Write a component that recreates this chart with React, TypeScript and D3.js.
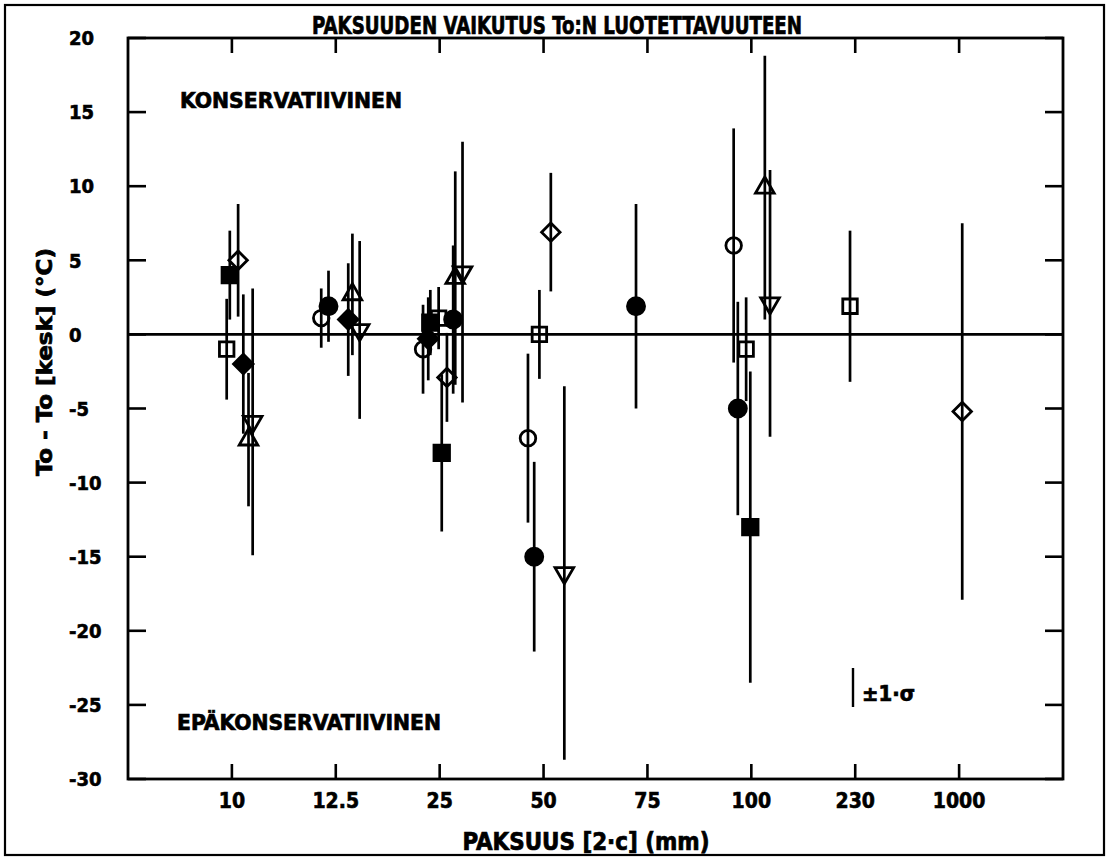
import React from 'react';
import * as d3 from 'd3';

// thickness classes (mm) shown on the x axis
const categories = ['10', '12.5', '25', '50', '75', '100', '230', '1000'];
const yTicks = [20, 15, 10, 5, 0, -5, -10, -15, -20, -25, -30];

// rows: [thickness class, offset inside class (fraction of a step), To - To[kesk], sigma]
type Row = [string, number, number, number];

const openSquare: Row[] = [
  ['10', -0.05, -1, 3.4],
  ['25', -0.01, 1.1, 2.1],
  ['50', -0.04, 0, 3],
  ['100', -0.05, -1, 3.5],
  ['230', -0.05, 1.9, 5.1],
];
const filledSquare: Row[] = [
  ['10', -0.02, 4, 3],
  ['25', -0.09, 0.8, 2.2],
  ['25', 0.02, -8, 5.3],
  ['100', -0.01, -13, 10.5],
];
const openCircle: Row[] = [
  ['12.5', -0.14, 1.1, 2],
  ['25', -0.16, -1, 3],
  ['50', -0.15, -7, 5.7],
  ['100', -0.17, 6, 7.9],
];
const filledCircle: Row[] = [
  ['12.5', -0.07, 1.9, 2.4],
  ['25', 0.13, 1, 5],
  ['50', -0.09, -15, 6.4],
  ['75', -0.11, 1.9, 6.9],
  ['100', -0.13, -5, 7.2],
];
const openDiamond: Row[] = [
  ['10', 0.06, 5, 3.8],
  ['25', 0.07, -2.9, 3],
  ['50', 0.07, 6.9, 4],
  ['1000', 0.03, -5.2, 12.7],
];
const filledDiamond: Row[] = [
  ['10', 0.11, -2, 4.7],
  ['12.5', 0.12, 1, 3.8],
  ['25', -0.11, -0.3, 2.8],
];
const triangleUp: Row[] = [
  ['10', 0.16, -7.1, 4.5],
  ['12.5', 0.16, 2.7, 4.1],
  ['25', 0.15, 3.8, 7.2],
  ['100', 0.13, 9.9, 8.9],
];
const triangleDown: Row[] = [
  ['10', 0.2, -5.9, 9],
  ['12.5', 0.23, 0.3, 6],
  ['25', 0.22, 4.2, 8.8],
  ['50', 0.2, -16.1, 12.6],
  ['100', 0.18, 2.1, 9],
];

const series = [
  { rows: openSquare, type: d3.symbolSquare, size: 210, filled: false, rot: 0 },
  { rows: filledSquare, type: d3.symbolSquare, size: 240, filled: true, rot: 0 },
  { rows: openCircle, type: d3.symbolCircle, size: 190, filled: false, rot: 0 },
  { rows: filledCircle, type: d3.symbolCircle, size: 230, filled: true, rot: 0 },
  { rows: openDiamond, type: d3.symbolSquare, size: 170, filled: false, rot: 45 },
  { rows: filledDiamond, type: d3.symbolSquare, size: 190, filled: true, rot: 45 },
  { rows: triangleUp, type: d3.symbolTriangle, size: 150, filled: false, rot: 0 },
  { rows: triangleDown, type: d3.symbolTriangle, size: 150, filled: false, rot: 180 },
];

const W = 1108;
const H = 859;
const left = 128, right = 1063, top = 38, bottom = 779;
const font = "'DejaVu Sans Condensed','DejaVu Sans','Liberation Sans',sans-serif";

export default function App() {
  const x = d3.scalePoint<string>().domain(categories).range([left, right]).padding(1);
  const y = d3.scaleLinear().domain([-30, 20]).range([bottom, top]);
  const step = x.step();
  const px = (r: Row) => (x(r[0]) as number) + r[1] * step;

  return (
    <svg width={W} height={H} style={{ position: 'absolute', left: 0, top: 0, background: '#fff' }}
      fontFamily={font} fontWeight="bold" stroke="none">
      <rect x={0} y={0} width={W} height={H} fill="#fff" />
      {/* outer frame */}
      <rect x={5} y={5} width={1099} height={850} fill="none" stroke="#000" strokeWidth={2.2} />

      <g stroke="#000" strokeWidth={0.7}>
        <text x={557} y={34} textAnchor="middle" fontSize={25} textLength={490} lengthAdjust="spacingAndGlyphs">
          PAKSUUDEN VAIKUTUS To:N LUOTETTAVUUTEEN
        </text>
      </g>

      {/* plot box */}
      <rect x={left} y={top} width={right - left} height={bottom - top} fill="none" stroke="#000" strokeWidth={2.8} />

      {/* y ticks both sides, pointing in */}
      {yTicks.map(t => (
        <g key={'y' + t}>
          <line x1={left} x2={left + 18} y1={y(t)} y2={y(t)} stroke="#000" strokeWidth={2.6} />
          <line x1={right - 18} x2={right} y1={y(t)} y2={y(t)} stroke="#000" strokeWidth={2.6} />
          <text x={69} y={y(t)} dy="0.36em" fontSize={20} stroke="#000" strokeWidth={0.6}>{t}</text>
        </g>
      ))}

      {/* x ticks top & bottom */}
      {categories.map(c => (
        <g key={'x' + c}>
          <line x1={x(c)} x2={x(c)} y1={top} y2={top + 15} stroke="#000" strokeWidth={2.6} />
          <line x1={x(c)} x2={x(c)} y1={bottom} y2={bottom - 15} stroke="#000" strokeWidth={2.6} />
          <text x={x(c)} y={808} textAnchor="middle" fontSize={21} stroke="#000" strokeWidth={0.6}>{c}</text>
        </g>
      ))}

      {/* zero line */}
      <line x1={left} x2={right} y1={y(0)} y2={y(0)} stroke="#000" strokeWidth={2.8} />

      {/* error bars */}
      {series.map((s, si) => s.rows.map((r, i) => (
        <line key={'e' + si + '-' + i} x1={px(r)} x2={px(r)} y1={y(r[2] + r[3])} y2={y(r[2] - r[3])}
          stroke="#000" strokeWidth={2.7} />
      )))}

      {/* markers */}
      {series.map((s, si) => s.rows.map((r, i) => (
        <path key={'m' + si + '-' + i}
          d={d3.symbol().type(s.type).size(s.size)() as string}
          transform={`translate(${px(r)},${y(r[2])}) rotate(${s.rot})`}
          fill={s.filled ? '#000' : 'none'} stroke="#000" strokeWidth={2.8} />
      )))}

      <g stroke="#000" strokeWidth={0.7}>
        <text x={180} y={108} fontSize={22} textLength={222} lengthAdjust="spacingAndGlyphs">KONSERVATIIVINEN</text>
        <text x={177} y={730} fontSize={22} textLength={264} lengthAdjust="spacingAndGlyphs">EPÄKONSERVATIIVINEN</text>
        <text x={862} y={701} fontSize={22} textLength={53} lengthAdjust="spacingAndGlyphs">±1·σ</text>
        <text x={586} y={850} textAnchor="middle" fontSize={24} textLength={247} lengthAdjust="spacingAndGlyphs">
          PAKSUUS [2·c] (mm)
        </text>
        <text transform="translate(52,362) rotate(-90)" textAnchor="middle" fontSize={22} textLength={228}
          lengthAdjust="spacingAndGlyphs">
          To - To [kesk] (°C)
        </text>
      </g>

      {/* sigma key */}
      <line x1={853} x2={853} y1={668} y2={707} stroke="#000" strokeWidth={2.4} />
    </svg>
  );
}
